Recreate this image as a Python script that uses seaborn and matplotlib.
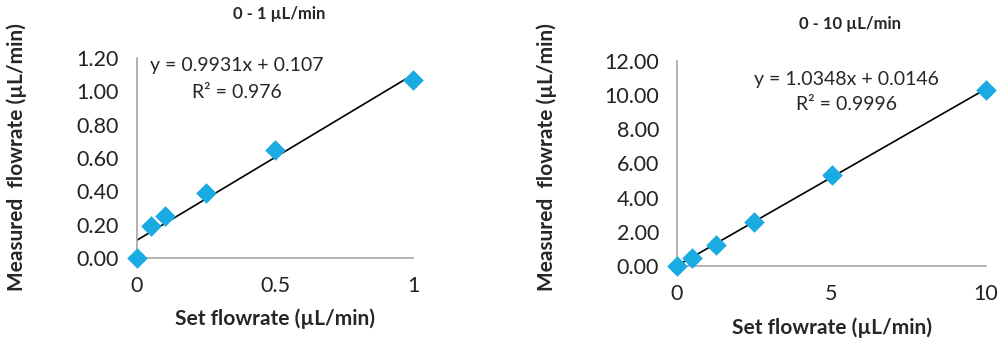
import matplotlib
matplotlib.use('Agg')
import matplotlib.pyplot as plt
import numpy as np
import seaborn as sns

# 0 - 1 uL/min run
set_low = [0, 0.05, 0.1, 0.25, 0.5, 1]
meas_low = [0, 0.19, 0.25, 0.39, 0.65, 1.07]
fit_low = (0.9931, 0.107)
eq_low = ['y = 0.9931x + 0.107', 'R² = 0.976']
yticks_low = [0, 0.2, 0.4, 0.6, 0.8, 1.0, 1.2]
xticks_low = [0, 0.5, 1]

# 0 - 10 uL/min run
set_high = [0, 0.5, 1.25, 2.5, 5, 10]
meas_high = [0, 0.5, 1.25, 2.6, 5.35, 10.3]
fit_high = (1.0348, 0.0146)
eq_high = ['y = 1.0348x + 0.0146', 'R² = 0.9996']
yticks_high = [0, 2, 4, 6, 8, 10, 12]
xticks_high = [0, 5, 10]

sns.set_style('white')
plt.rcParams['font.family'] = ['Lato', 'DejaVu Sans']

blue = '#1AABE3'
spine_col = '#A6A6A6'

fig = plt.figure(figsize=(10, 3.42), dpi=100)
ax1 = fig.add_axes([0.137, 0.2456, 0.276, 0.5848])
ax2 = fig.add_axes([0.677, 0.222, 0.309, 0.600])


def draw_panel(ax, xs, ys, fit, eq, xticks, yticks, eq_pos, xlabel_y, title, title_pos, ylab_x):
    slope, icpt = fit
    fx = np.array([min(xs), max(xs)])
    ax.plot(fx, slope * fx + icpt, color='black', lw=1.2, zorder=2)
    sns.scatterplot(x=xs, y=ys, ax=ax, marker='D', s=110, color=blue,
                    edgecolor=blue, linewidth=0, zorder=3, clip_on=False)
    ax.set_xlim(xticks[0], xticks[-1])
    ax.set_ylim(yticks[0], yticks[-1])
    ax.set_xticks(xticks)
    ax.set_yticks(yticks)
    ax.set_yticklabels(['%.2f' % v for v in yticks])
    ax.set_xticklabels([('%g' % v) for v in xticks])
    ax.tick_params(axis='both', length=0, labelsize=15.5, colors='#222222')
    ax.tick_params(axis='x', pad=13)
    ax.tick_params(axis='y', pad=13)
    for s in ['top', 'right']:
        ax.spines[s].set_visible(False)
    for s in ['left', 'bottom']:
        ax.spines[s].set_color(spine_col)
        ax.spines[s].set_linewidth(1.2)
    ax.grid(False)
    ax.text(eq_pos[0], eq_pos[1], eq[0], transform=fig.transFigure,
            ha='center', va='center', fontsize=14)
    ax.text(eq_pos[0], eq_pos[2], eq[1], transform=fig.transFigure,
            ha='center', va='center', fontsize=14)
    fig.text(title_pos[0], title_pos[1], title, ha='center', va='center',
             fontsize=12, fontweight='bold')
    pos = ax.get_position()
    fig.text((pos.x0 + pos.x1) / 2, xlabel_y, 'Set flowrate (µL/min)',
             ha='center', va='center', fontsize=15, fontweight='bold')
    fig.text(ylab_x, 1 - 157 / 342, 'Measured  flowrate (µL/min)', rotation=90,
             ha='center', va='center', fontsize=15, fontweight='bold')


draw_panel(ax1, set_low, meas_low, fit_low, eq_low, xticks_low, yticks_low,
           (0.237, 1 - 66 / 342, 1 - 92 / 342), 1 - 319 / 342,
           '0 - 1 µL/min', (0.279, 1 - 14 / 342), 0.017)
draw_panel(ax2, set_high, meas_high, fit_high, eq_high, xticks_high, yticks_high,
           (0.846, 1 - 79 / 342, 1 - 104 / 342), 1 - 328 / 342,
           '0 - 10 µL/min', (0.850, 1 - 24 / 342), 0.547)

fig.savefig('out.png', dpi=100)
